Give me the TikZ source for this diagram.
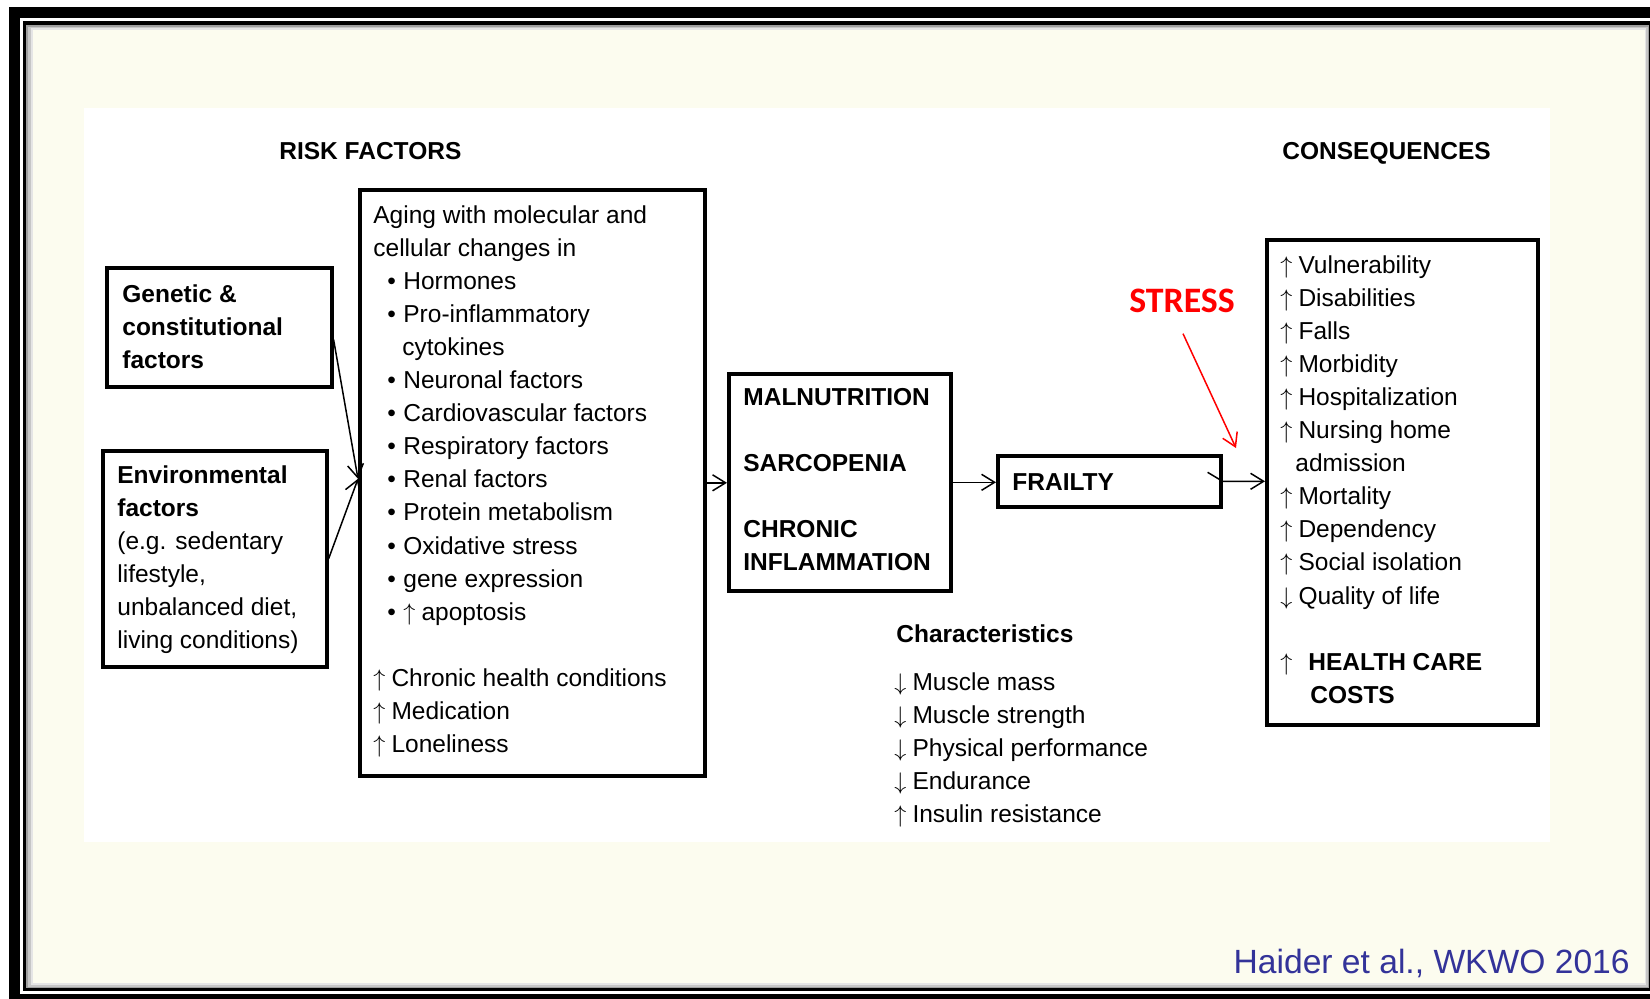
\documentclass[tikz,border=0pt]{standalone}
\usepackage{fontspec}
\setmainfont{Liberation Sans}
\newfontfamily\calibfont{Carlito}
\usetikzlibrary{arrows.meta,calc}
\definecolor{cream}{RGB}{252,252,239}
\definecolor{citeblue}{RGB}{51,51,153}
\definecolor{stressred}{RGB}{255,0,0}
\newcommand\bul{\makebox[8pt][l]{\textbullet}}
\newcommand\uar{\makebox[0.74em][l]{$\uparrow$}}
\newcommand\dar{\makebox[0.74em][l]{$\downarrow$}}
\begin{document}
\begin{tikzpicture}[x=0.5pt,y=-0.5pt,
  box/.style={draw=black,line width=1.8pt,inner sep=0pt,anchor=north west},
  txt/.style={anchor=base west,inner sep=0pt,font=\fontsize{12.25}{14}\selectfont},
  btxt/.style={anchor=base west,inner sep=0pt,font=\fontsize{12.25}{14}\selectfont\bfseries},
  arr/.style={line width=0.75pt,-{Straight Barb[length=6.5pt,width=8pt]}},
]
\useasboundingbox (0,0) rectangle (1650,998);
% frame
\fill[white] (0,0) rectangle (1650,998);
\fill[black] (9,7) rectangle (1700,1050);
\fill[white] (20,18) rectangle (1700,994);
\fill[black] (23,21) rectangle (1700,991);
\fill[gray!75] (26,25) rectangle (1649,988);
\fill[gray!45] (28,26.5) rectangle (1647.5,986.5);
\fill[gray!20] (30.5,28) rectangle (1646,985);
\fill[cream] (33,30) rectangle (1645,983);
\fill[white] (84,108) rectangle (1550,842);

% headings
\node[btxt] (hrisk) at (279,159) {RISK FACTORS};
\node[btxt] (hcons) at (1282,159) {CONSEQUENCES};

% boxes
\node[box,minimum width=112.5pt,minimum height=59.5pt] (gen) at (105,266) {};
\node[box,minimum width=112pt,minimum height=108pt] (env) at (101,449) {};
\node[box,minimum width=172.5pt,minimum height=293pt] (aging) at (358,188) {};
\node[box,minimum width=111pt,minimum height=108.5pt] (mal) at (727,372) {};
\node[box,minimum width=111.5pt,minimum height=25.5pt] (frail) at (996,454) {};
\node[box,minimum width=135.5pt,minimum height=242.5pt] (cons) at (1265,238) {};

% genetic text
\node[btxt] (g0) at (122,302) {Genetic \&};
\node[btxt] (g1) at (122,335) {constitutional};
\node[btxt] (g2) at (122,368) {factors};

% environmental text
\node[btxt] (e0) at (117,483) {Environmental};
\node[btxt] (e1) at (117,516) {factors};
\node[txt] (e2) at (117,549) {(e.g. sedentary};
\node[txt] (e3) at (117,582) {lifestyle,};
\node[txt] (e4) at (117,615) {unbalanced diet,};
\node[txt] (e5) at (117,648) {living conditions)};

% aging text
\foreach \i/\x/\t in {0/373/{Aging with molecular and},
  1/373/{cellular changes in},
  2/387/{\bul Hormones},
  3/387/{\bul Pro-inflammatory},
  4/402/{cytokines},
  5/387/{\bul Neuronal factors},
  6/387/{\bul Cardiovascular factors},
  7/387/{\bul Respiratory factors},
  8/387/{\bul Renal factors},
  9/387/{\bul Protein metabolism},
  10/387/{\bul Oxidative stress},
  11/387/{\bul gene expression},
  12/387/{\bul\uar apoptosis},
  14/373/{\uar Chronic health conditions},
  15/373/{\uar Medication},
  16/373/{\uar Loneliness}}
  \node[txt] (ag\i) at (\x,{223+\i*33.1}) {\t};

% malnutrition text
\node[btxt] (m0) at (743,405) {MALNUTRITION};
\node[btxt] (m1) at (743,471) {SARCOPENIA};
\node[btxt] (m2) at (743,537) {CHRONIC};
\node[btxt] (m3) at (743,570) {INFLAMMATION};

% frailty
\node[btxt] (fr) at (1012,490) {FRAILTY};

% consequences text
\foreach \i/\x/\t in {0/1280/{\uar Vulnerability},
  1/1280/{\uar Disabilities},
  2/1280/{\uar Falls},
  3/1280/{\uar Morbidity},
  4/1280/{\uar Hospitalization},
  5/1280/{\uar Nursing home},
  6/1295/{admission},
  7/1280/{\uar Mortality},
  8/1280/{\uar Dependency},
  9/1280/{\uar Social isolation},
  10/1280/{\dar Quality of life},
  12/1280/{\uar}}
  \node[txt] (c\i) at (\x,{273+\i*33.1}) {\t};
\node[btxt] (hc0) at (1308,{273+12*33.1}) {HEALTH CARE};
\node[btxt] (hc1) at (1310,{273+13*33.1}) {COSTS};

% characteristics
\node[btxt] (ch) at (896,642) {Characteristics};
\foreach \i/\t in {0/{\dar Muscle mass},1/{\dar Muscle strength},2/{\dar Physical performance},3/{\dar Endurance},4/{\uar Insulin resistance}}
  \node[txt] (ch\i) at (894,{690+\i*33}) {\t};

% stress
\node[anchor=base,inner sep=0pt,text=stressred,font=\fontsize{17.9}{20}\calibfont\bfseries] (stress) at (1182,312) {STRESS};
\coordinate (stressend) at (1236,448);
\draw[arr,draw=stressred] ($(stress.south)+(1,21)$) -- (stressend);

% connectors
\coordinate (join) at ($(aging.west)+(0,-4)$);
\draw[arr] ($(gen.north east)!0.6!(gen.south east)$) -- (join);
\draw[arr] (env.east) -- (join);
\draw[arr] (aging.east) -- (aging.east -| mal.west);
\draw[arr] (mal.east) -- (mal.east -| frail.west);
\draw[arr] ($(frail.east)+(-15,-9)$) -- (frail.east) -- (frail.east -| cons.west);

% citation
\node[anchor=base east,inner sep=0pt,text=citeblue,font=\fontsize{16.8}{20}\selectfont] (cite) at (1630,973) {Haider et al., WKWO 2016};
\end{tikzpicture}
\end{document}
